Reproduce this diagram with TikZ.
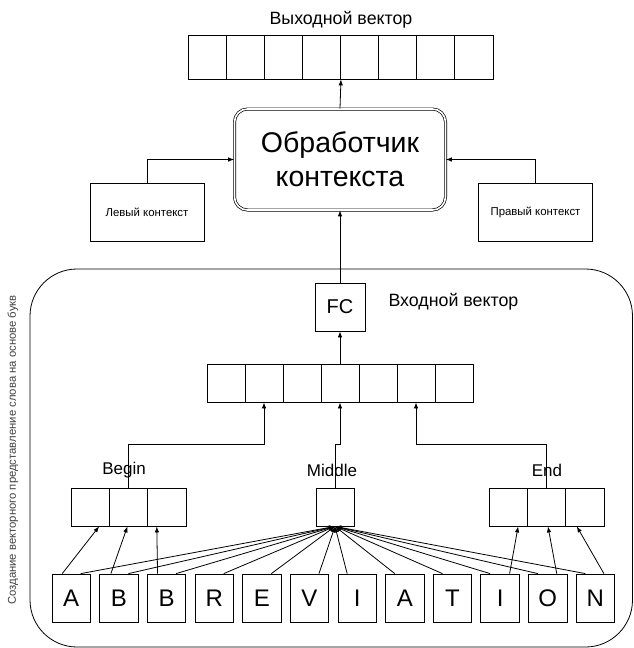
\documentclass[tikz,border=0pt]{standalone}
\usepackage{fontspec}
\setmainfont{Liberation Sans}
\usetikzlibrary{arrows.meta}
\usetikzlibrary{calc}

\tikzset{
  arr/.style={-{Latex[length=6pt,width=4.5pt]}, line width=0.8pt},
  cell/.style={draw, line width=0.8pt, inner sep=0pt, minimum width=38.1pt, minimum height=38pt},
  letter/.style={draw, line width=0.8pt, inner sep=0pt, minimum width=38.5pt, minimum height=48pt,
                 font=\fontsize{24}{24}\selectfont},
  ctxbox/.style={draw, line width=0.8pt, minimum width=114pt, minimum height=58pt,
                 font=\fontsize{11.4}{13}\selectfont},
  proc/.style={draw, double, double distance=1.6pt, line width=0.7pt, rounded corners=13pt,
               minimum width=211pt, minimum height=101pt, align=center,
               font=\fontsize{28.5}{34}\selectfont},
  lbl/.style={font=\fontsize{17.8}{20}\selectfont}
}

\begin{document}
\begin{tikzpicture}[x=1pt, y=-1pt]
  \useasboundingbox (0,0) rectangle (633,648);

  % Output vector
  \node[lbl] (outlbl) at (341,20) {Выходной вектор};
  \foreach \i in {1,...,8}
    \node[cell, minimum height=44pt] (out\i) at ({169.1+38.1*\i},57) {};

  % Context handler
  \node[proc] (proc) at (340,159.5) {Обработчик\\контекста};
  \node[ctxbox] (lctx) at (147,212) {Левый контекст};
  \node[ctxbox] (rctx) at (535.5,212) {Правый контекст};

  \draw[arr] (proc.north) -- (out4.south east);
  \draw[arr] (lctx.north) |- (proc.west);
  \draw[arr] (rctx.north) |- (proc.east);

  % Character embedding block
  \draw[line width=0.8pt, rounded corners=47pt] (30,269) rectangle (632.5,647);
  \node[font=\fontsize{11.3}{14}\selectfont, text=black!75, rotate=90] (side) at (13,450)
    {Создание векторного представление слова на основе букв};

  \node[draw, line width=0.8pt, minimum width=50pt, minimum height=48pt,
        font=\fontsize{20}{20}\selectfont] (fc) at (340,307) {FC};
  \node[lbl, anchor=west] (inlbl) at (385,302) {Входной вектор};
  \draw[arr] (fc.north) -- (proc.south);

  % Input vector
  \foreach \i in {1,...,7}
    \node[cell] (mid\i) at ({188+38*\i},383) {};
  \draw[arr] (mid4.north) -- (fc.south);

  % Begin / Middle / End
  \node[lbl, font=\fontsize{17}{20}\selectfont] (beglbl) at (124,470) {Begin};
  \node[lbl, font=\fontsize{17}{20}\selectfont] (midlbl) at (332,470) {Middle};
  \node[lbl, font=\fontsize{17}{20}\selectfont] (endlbl) at (547,470) {End};
  \foreach \i in {1,...,3} {
    \node[cell, minimum width=38.33pt] (beg\i) at ({51.8+38.33*\i},507) {};
    \node[cell, minimum width=38.33pt] (end\i) at ({469.8+38.33*\i},507) {};
  }
  \node[cell, minimum width=38pt] (midc) at (335,507) {};

  \draw[arr] (beg2.north) -- ++(0,-43) -| (mid2.south);
  \draw[arr] (midc.north) -- ++(0,-43) -| (mid4.south);
  \draw[arr] (end2.north) -- ++(0,-43) -| (mid6.south);

  % Letters
  \foreach \ch [count=\i] in {A,B,B,R,E,V,I,A,T,I,O,N}
    \node[letter] (l\i) at ({23.6+47.65*\i},598) {\ch};

  \foreach \i in {1,...,6}
    \draw[arr] ([xshift=9.5pt]l\i.north) -- (midc.south);
  \foreach \i in {7,...,12}
    \draw[arr] ([xshift=-10pt]l\i.north) -- (midc.south);

  \draw[arr] ([xshift=-9pt]l1.north)  -- ([xshift=9pt]beg1.south);
  \draw[arr] ([xshift=-8pt]l2.north)  -- ([xshift=-1pt]beg2.south);
  \draw[arr] ([xshift=-9pt]l3.north)  -- ([xshift=-10pt]beg3.south);
  \draw[arr] ([xshift=9.5pt]l10.north) -- ([xshift=10pt]end1.south);
  \draw[arr] ([xshift=9pt]l11.north)  -- ([xshift=1.5pt]end2.south);
  \draw[arr] ([xshift=8.5pt]l12.north) -- ([xshift=-8pt]end3.south);
\end{tikzpicture}
\end{document}
